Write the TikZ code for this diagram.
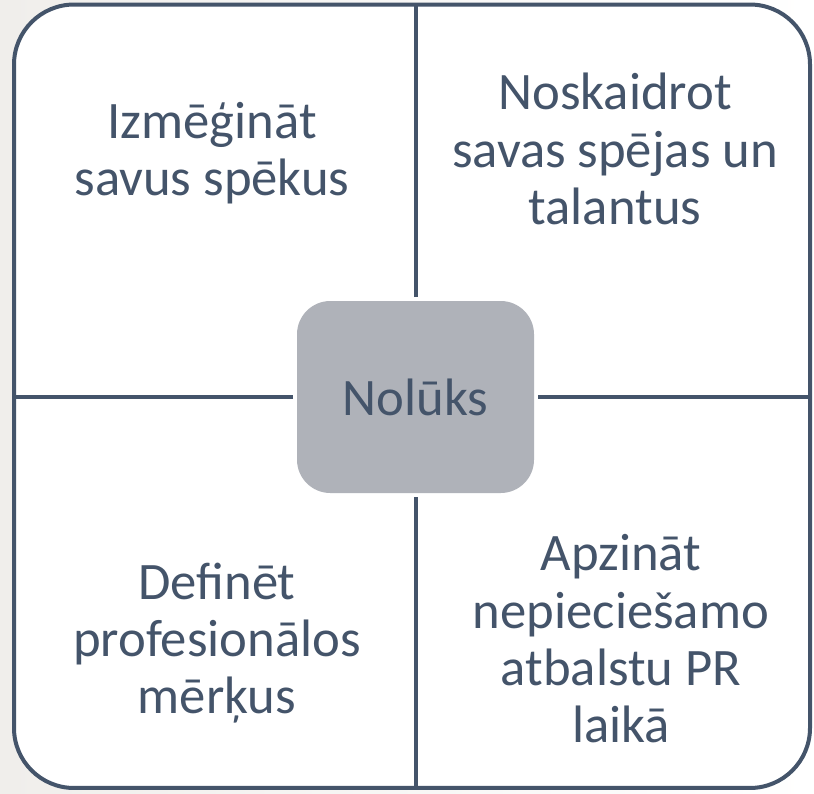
\documentclass[tikz,border=0pt]{standalone}
\usepackage{fontspec}
\setmainfont{Carlito}
\usepackage{tikz}

\definecolor{slate}{RGB}{68,84,106}
\definecolor{hubgray}{RGB}{175,178,185}
\definecolor{paper}{RGB}{240,238,235}

\tikzset{
  frame/.style={draw=slate, line width=3pt, fill=white, rounded corners=45pt,
    minimum width=597pt, minimum height=587.6pt, inner sep=0pt},
  hub/.style={fill=hubgray, rounded corners=25pt, minimum width=177.75pt,
    minimum height=144pt, outer sep=3pt, text=slate, font=\fontsize{39.5}{43}\selectfont},
  quad/.style={text=slate, align=center, inner sep=0pt, font=\fontsize{39.5}{43}\selectfont},
  divider/.style={draw=slate, line width=3pt}
}

\begin{document}
\begin{tikzpicture}[x=0.75pt,y=0.75pt,yscale=-1,xscale=1]
\useasboundingbox (0,0) rectangle (814,793);
\fill [left color=paper, right color=white] (0,0) rectangle (814,793);

% Frame
\node [frame] (box) at (412,396.25) {};

% Centre
\node [hub] (nolu) at (415.5,397) {Nolūks};

% Dividers
\draw [divider] (nolu.north) -- (nolu.north |- box.north);
\draw [divider] (nolu.south) -- (nolu.south |- box.south);
\draw [divider] (nolu.west) -- (nolu.west -| box.west);
\draw [divider] (nolu.east) -- (nolu.east -| box.east);

% Text Node
\node [quad] (tl) at (212,153) {Izmēģināt\\savus spēkus};
% Text Node
\node [quad] (tr) at (615,149) {Noskaidrot\\savas spējas un\\talantus};
% Text Node
\node [quad] (bl) at (217,643) {Definēt\\profesionālos\\mērķus};
% Text Node
\node [quad] (br) at (621,639) {Apzināt\\nepieciešamo\\atbalstu PR\\laikā};

\end{tikzpicture}
\end{document}
